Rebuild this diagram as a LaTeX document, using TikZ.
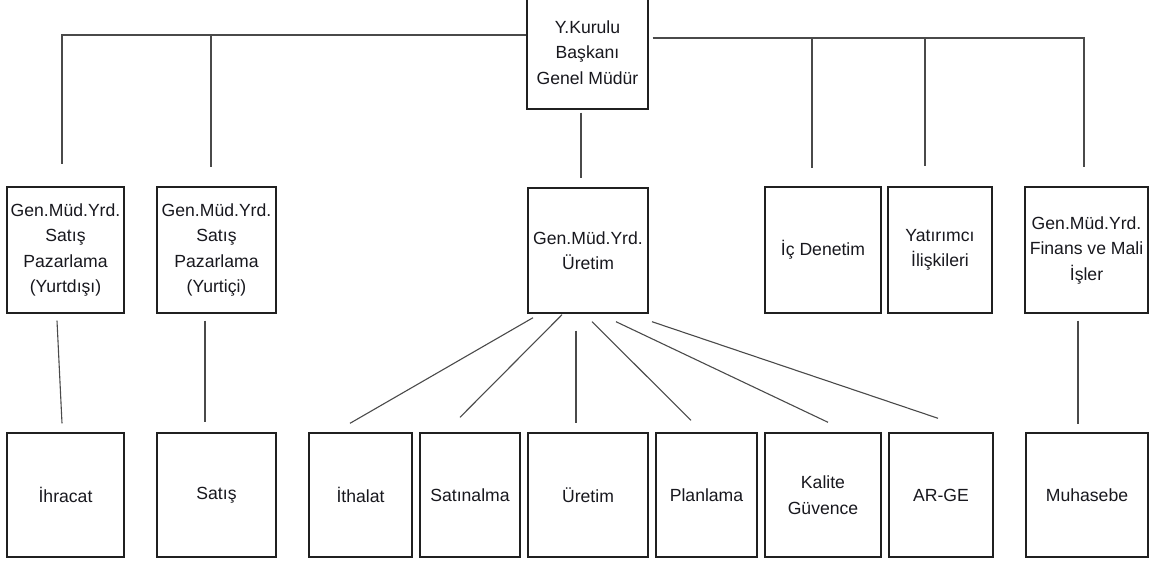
\documentclass[tikz,border=0pt]{standalone}
\usepackage{fontspec}
\setmainfont{Liberation Sans}
\definecolor{boxc}{HTML}{202020}
\definecolor{linec}{HTML}{4A4A4A}
\definecolor{txtc}{HTML}{18181E}
\begin{document}
\begin{tikzpicture}[x=1pt,y=-1pt,
  box/.style={draw=boxc,line width=1.4pt,fill=white,align=center,inner sep=2pt,
    text=txtc,font=\fontsize{17.6pt}{25.5pt}\selectfont},
  conn/.style={draw=linec,line width=1.1pt}]
\useasboundingbox (0,0) rectangle (1155,562);
\clip (0,0) rectangle (1155,562);
% top
\node[box,minimum width=121pt,minimum height=113pt] (top) at (587.5,52.5) {Y.Kurulu\\Başkanı\\Genel Müdür};
% level 2
\node[box,minimum width=117pt,minimum height=126pt] (b1) at (65.5,250) {Gen.Müd.Yrd.\\Satış\\Pazarlama\\(Yurtdışı)};
\node[box,minimum width=119pt,minimum height=126pt] (b2) at (216.5,250) {Gen.Müd.Yrd.\\Satış\\Pazarlama\\(Yurtiçi)};
\node[box,minimum width=120pt,minimum height=125pt] (b3) at (588,250.5) {Gen.Müd.Yrd.\\Üretim};
\node[box,minimum width=116pt,minimum height=126pt] (b4) at (823,250) {İç Denetim};
\node[box,minimum width=104pt,minimum height=126pt] (b5) at (940,250) {Yatırımcı\\İlişkileri};
\node[box,minimum width=123pt,minimum height=126pt] (b6) at (1086.5,250) {Gen.Müd.Yrd.\\Finans ve Mali\\İşler};
% level 3
\node[box,minimum width=117pt,minimum height=124pt] (c1) at (65.5,495) {İhracat};
\node[box,minimum width=119pt,minimum height=124pt] (c2) at (216.5,495) {Satış};
\node[box,minimum width=103pt,minimum height=124pt] (c3) at (360.5,495) {İthalat};
\node[box,minimum width=100pt,minimum height=124pt] (c4) at (470,495) {Satınalma};
\node[box,minimum width=120pt,minimum height=124pt] (c5) at (588,495) {Üretim};
\node[box,minimum width=101pt,minimum height=124pt] (c6) at (706.5,495) {Planlama};
\node[box,minimum width=116pt,minimum height=124pt] (c7) at (823,495) {Kalite\\Güvence};
\node[box,minimum width=104pt,minimum height=124pt] (c8) at (941,495) {AR-GE};
\node[box,minimum width=122pt,minimum height=124pt] (c9) at (1087,495) {Muhasebe};
% junctions
\coordinate (jl1) at (62,35);
\coordinate (jl2) at (211,35);
\coordinate (jr1) at (812,38);
\coordinate (jr2) at (925,38);
\coordinate (jr3) at (1084,38);
% top connectors
\draw[conn,shorten >=22pt] (top.west |- jl1) -- (jl1) -- (jl1 |- b1.north);
\draw[conn,shorten >=19pt] (jl2) -- (jl2 |- b2.north);
\draw[conn,shorten <=4pt,shorten >=19pt] (top.east |- jr3) -- (jr3) -- (jr3 |- b6.north);
\draw[conn,shorten >=18pt] (jr1) -- (jr1 |- b4.north);
\draw[conn,shorten >=20pt] (jr2) -- (jr2 |- b5.north);
\draw[conn] ([xshift=-6.5pt,yshift=-3pt]top.south) -- ([xshift=-7pt,yshift=9pt]b3.north);
% level 2 -> 3
\draw[conn] ([xshift=-8.5pt,yshift=-7pt]b1.south) -- ([xshift=-3.5pt,yshift=9pt]c1.north);
\draw[conn] ([xshift=-11.5pt,yshift=-7pt]b2.south) -- ([xshift=-11.5pt,yshift=10pt]c2.north);
\draw[conn] ([xshift=-8.5pt,yshift=-7pt]b6.south) -- ([xshift=-9pt,yshift=8pt]c9.north);
\draw[conn] ([xshift=-55pt,yshift=-4pt]b3.south) -- ([xshift=-10.5pt,yshift=9pt]c3.north);
\draw[conn] ([xshift=-26pt,yshift=-1pt]b3.south) -- ([xshift=-10pt,yshift=15pt]c4.north);
\draw[conn] ([xshift=-12pt,yshift=-17pt]b3.south) -- ([xshift=-12pt,yshift=9pt]c5.north);
\draw[conn] ([xshift=4pt,yshift=-8pt]b3.south) -- ([xshift=-15.5pt,yshift=12pt]c6.north);
\draw[conn] ([xshift=28pt,yshift=-8pt]b3.south) -- ([xshift=5pt,yshift=10pt]c7.north);
\draw[conn] ([xshift=64pt,yshift=-8pt]b3.south) -- ([xshift=-3pt,yshift=14pt]c8.north);
\end{tikzpicture}
\end{document}
